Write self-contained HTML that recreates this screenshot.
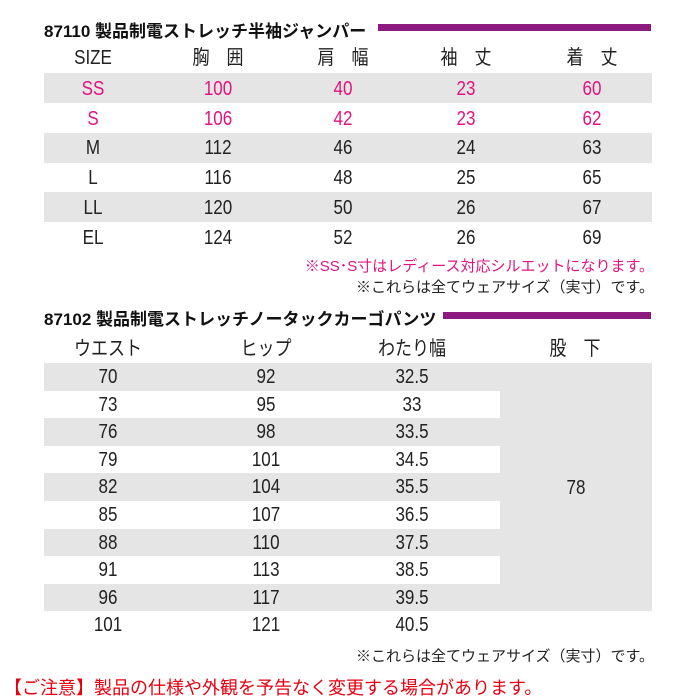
<!DOCTYPE html>
<html><head><meta charset="utf-8"><style>
body{margin:0;width:700px;height:700px;background:#fff;position:relative;overflow:hidden;font-family:"Liberation Sans","Noto Sans CJK JP",sans-serif;color:#222}
.a{position:absolute}
.t{position:absolute;font-weight:bold;font-size:17px;color:#111;white-space:nowrap}
.bar{position:absolute;background:#8e1a80;height:7px}
.g{position:absolute;background:#e5e5e5}
.c{position:absolute;transform:translateX(-50%) scaleX(0.85);font-size:20px;white-space:nowrap;line-height:20px}
.p{color:#e2137f}
.n{position:absolute;right:46px;font-size:15px;white-space:nowrap}
</style></head><body>
<div class="t" style="left:44px;top:17px">87110 製品制電ストレッチ半袖ジャンパー</div>
<div class="bar" style="left:378px;top:24px;width:273px"></div>
<div class="g" style="left:44px;top:73px;width:608px;height:30px"></div>
<div class="g" style="left:44px;top:133px;width:608px;height:30px"></div>
<div class="g" style="left:44px;top:192px;width:608px;height:30px"></div>
<div id="t1"></div>
<div class="n p" style="top:255px">※SS･S寸はレディース対応シルエットになります。</div>
<div class="n" style="top:276px">※これらは全てウェアサイズ（実寸）です。</div>
<div class="t" style="left:44px;top:305px">87102 製品制電ストレッチノータックカーゴパンツ</div>
<div class="bar" style="left:443px;top:312px;width:208px"></div>
<div id="t2"></div>
<div class="n" style="top:645px">※これらは全てウェアサイズ（実寸）です。</div>
<div class="a" style="left:4px;top:674px;font-size:18px;color:#e60012;white-space:nowrap">【ご注意】製品の仕様や外観を予告なく変更する場合があります。</div>
<script>
var h='';
var cx=[93,218,343,466,592];
var hd=['SIZE','胸　囲','肩　幅','袖　丈','着　丈'];
hd.forEach(function(s,i){h+='<div class="c" style="left:'+cx[i]+'px;top:48px">'+s+'</div>';});
var r=[['SS',100,40,23,60],['S',106,42,23,62],['M',112,46,24,63],['L',116,48,25,65],['LL',120,50,26,67],['EL',124,52,26,69]];
r.forEach(function(row,j){row.forEach(function(v,i){h+='<div class="c'+(j<2?' p':'')+'" style="left:'+cx[i]+'px;top:'+(79+j*29.7)+'px">'+v+'</div>';});});
var c2=[108,266,412,575];
['ウエスト','ヒップ','わたり幅','股　下'].forEach(function(s,i){h+='<div class="c" style="left:'+c2[i]+'px;top:339px">'+s+'</div>';});
h+='<div class="g" style="left:500px;top:363px;width:152px;height:248px"></div>';
var d=[[70,92,32.5],[73,95,33],[76,98,33.5],[79,101,34.5],[82,104,35.5],[85,107,36.5],[88,110,37.5],[91,113,38.5],[96,117,39.5],[101,121,40.5]];
d.forEach(function(row,j){var y=363+j*27.6;if(j%2==0&&j<9)h+='<div class="g" style="left:44px;top:'+y+'px;width:456px;height:27.6px"></div>';row.forEach(function(v,i){h+='<div class="c" style="left:'+c2[i]+'px;top:'+(y+4)+'px">'+v+'</div>';});});
h+='<div class="c" style="left:576px;top:478px">78</div>';
document.getElementById('t2').innerHTML=h;
</script>
</body></html>
